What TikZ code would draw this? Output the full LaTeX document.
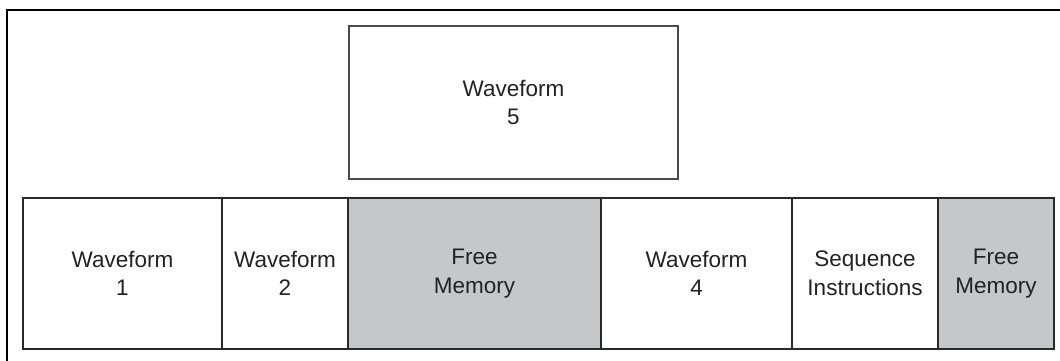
\documentclass[tikz,border=0pt]{standalone}
\usepackage{fontspec}
\setmainfont{Liberation Sans}
\definecolor{freegray}{HTML}{C6C7C8}
\definecolor{edge}{HTML}{2A2A2A}
\definecolor{txt}{HTML}{222222}
\begin{document}
\begin{tikzpicture}[x=1pt,y=-1pt,
  cell/.style={draw=edge, line width=1.3pt, rectangle, inner sep=0pt, outer sep=0pt,
    align=center, text=txt, font=\fontsize{22.5}{28.5}\selectfont, minimum height=151pt},
  freecell/.style={cell, fill=freegray}]
\useasboundingbox (0,0) rectangle (1060,361);
% outer frame (cropped at right and bottom)
\draw[line width=2pt, black] (7,361) -- (7,10) -- (1060,10);
% top block
\node[cell, draw=edge!85, line width=1.2pt, minimum width=329pt, minimum height=153pt] (w5) at (513.5,102.5) {Waveform\\5};
% memory row
\node[cell, minimum width=199pt] (w1) at (122.5,273.5) {Waveform\\1};
\node[cell, minimum width=126pt] (w2) at (285,273.5) {Waveform\\2};
\node[freecell, minimum width=253pt] (f1) at (474.5,273.5) {Free\\Memory};
\node[cell, minimum width=191pt] (w4) at (696.5,273.5) {Waveform\\4};
\node[cell, minimum width=146pt] (sq) at (865,273.5) {Sequence\\Instructions};
\node[freecell, minimum width=116pt] (f2) at (996,273.5) {Free\\Memory};
\end{tikzpicture}
\end{document}
